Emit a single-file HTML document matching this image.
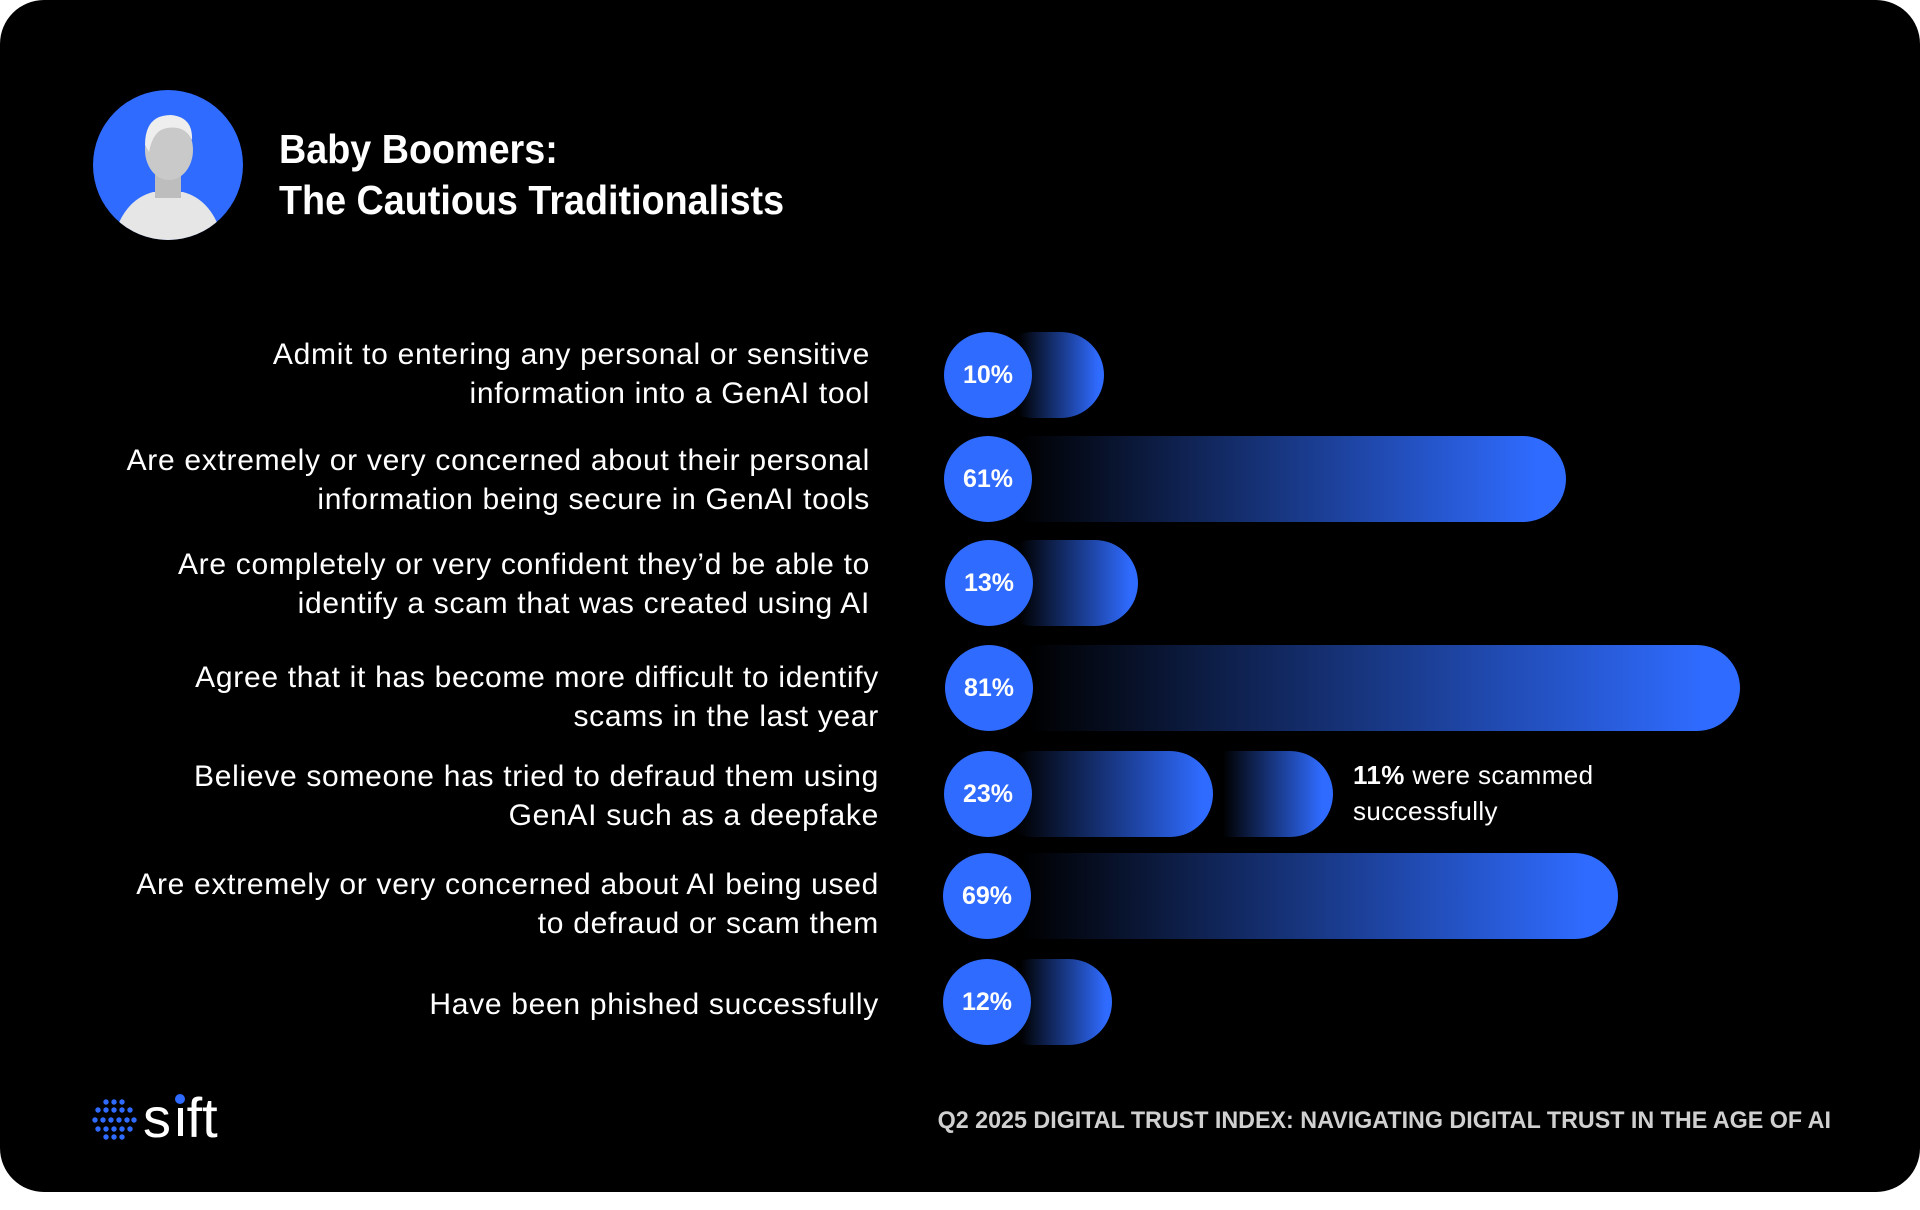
<!DOCTYPE html>
<html><head><meta charset="utf-8"><style>
html,body{margin:0;padding:0;width:1920px;height:1210px;background:#fff;overflow:hidden;font-family:"Liberation Sans",sans-serif}
.card{position:absolute;left:0;top:0;width:1920px;height:1192px;background:#000;border-radius:44px}
.av{position:absolute;left:93px;top:90px;width:150px;height:150px;border-radius:50%;background:#2f6bff;overflow:hidden}
.title{position:absolute;left:279px;top:124px;color:#fff;font-weight:bold;font-size:41px;line-height:51px;transform:scaleX(0.92);transform-origin:0 0;white-space:nowrap}
.lbl{position:absolute;color:#fff;font-size:30px;letter-spacing:0.7px;line-height:39px;text-align:right;width:860px}
.bar{position:absolute;height:86px;border-radius:43px}
.circ{position:absolute;width:88px;height:86px;border-radius:50%;background:#2f6bff;color:#fff;font-weight:bold;font-size:25px;line-height:86px;text-align:center}
.foot{position:absolute;right:89px;top:1107px;color:#d0d0d0;font-weight:bold;font-size:24px;transform:scaleX(0.97);transform-origin:100% 0;white-space:nowrap}
</style></head><body>
<div class="card"></div>
<div class="av">
<svg width="150" height="150" viewBox="0 0 150 150">
<path d="M20 150 Q30 110 60 102 L90 102 Q120 110 130 150Z" fill="#e6e6e6"/>
<rect x="62" y="80" width="26" height="28" fill="#bdbdbd"/>
<ellipse cx="76" cy="60" rx="24" ry="30" fill="#c9c9c9"/>
<path d="M52 55 Q52 25 78 25 Q100 27 99 50 Q92 35 74 38 Q60 40 56 62Z" fill="#eee"/>
</svg>
</div>
<div class="title">Baby Boomers:<br>The Cautious Traditionalists</div>

<div class="lbl" style="left:10px;top:335px">Admit to entering any personal or sensitive<br>information into a GenAI tool</div>
<div class="lbl" style="left:10px;top:441px">Are extremely or very concerned about their personal<br>information being secure in GenAI tools</div>
<div class="lbl" style="left:10px;top:545px">Are completely or very confident they’d be able to<br>identify a scam that was created using AI</div>
<div class="lbl" style="left:19px;top:658px">Agree that it has become more difficult to identify<br>scams in the last year</div>
<div class="lbl" style="left:19px;top:757px">Believe someone has tried to defraud them using<br>GenAI such as a deepfake</div>
<div class="lbl" style="left:19px;top:865px">Are extremely or very concerned about AI being used<br>to defraud or scam them</div>
<div class="lbl" style="left:19px;top:985px">Have been phished successfully</div>

<div class="bar" style="left:990px;top:332px;width:114px;background:linear-gradient(90deg,#000 25%,#2f6bff 95%)"></div>
<div class="circ" style="left:944px;top:332px">10%</div>
<div class="bar" style="left:990px;top:436px;width:576px;background:linear-gradient(90deg,#000 5%,#2f6bff 95%)"></div>
<div class="circ" style="left:944px;top:436px">61%</div>
<div class="bar" style="left:990px;top:540px;width:148px;background:linear-gradient(90deg,#000 20%,#2f6bff 95%)"></div>
<div class="circ" style="left:945px;top:540px">13%</div>
<div class="bar" style="left:990px;top:645px;width:750px;background:linear-gradient(90deg,#000 5%,#2f6bff 95%)"></div>
<div class="circ" style="left:945px;top:645px">81%</div>
<div class="bar" style="left:990px;top:751px;width:223px;background:linear-gradient(90deg,#000 12%,#2f6bff 95%)"></div>
<div class="bar" style="left:1223px;top:751px;width:110px;border-radius:0 43px 43px 0;background:linear-gradient(90deg,#000 0%,#2f6bff 90%)"></div>
<div class="circ" style="left:944px;top:751px">23%</div>
<div style="position:absolute;left:1353px;top:757px;color:#fff;font-size:26px;letter-spacing:0.4px;line-height:36px"><b>11%</b> were scammed<br>successfully</div>
<div class="bar" style="left:990px;top:853px;width:628px;background:linear-gradient(90deg,#000 5%,#2f6bff 95%)"></div>
<div class="circ" style="left:943px;top:853px">69%</div>
<div class="bar" style="left:990px;top:959px;width:122px;background:linear-gradient(90deg,#000 25%,#2f6bff 95%)"></div>
<div class="circ" style="left:943px;top:959px">12%</div>

<svg style="position:absolute;left:91px;top:1097px" width="46" height="46" viewBox="0 0 46 46">
<g fill="#2f6bff">
<circle cx="15" cy="5" r="2.7"/><circle cx="23" cy="5" r="2.7"/><circle cx="31" cy="5" r="2.7"/>
<circle cx="7" cy="13" r="2.7"/><circle cx="15" cy="13" r="2.7"/><circle cx="23" cy="13" r="2.7"/><circle cx="31" cy="13" r="2.7"/><circle cx="39" cy="13" r="2.7"/>
<circle cx="4" cy="23" r="2.7"/><circle cx="12" cy="23" r="2.7"/><circle cx="20" cy="23" r="2.7"/><circle cx="28" cy="23" r="2.7"/><circle cx="36" cy="23" r="2.7"/><circle cx="43" cy="23" r="2.7"/>
<circle cx="7" cy="32" r="2.7"/><circle cx="15" cy="32" r="2.7"/><circle cx="23" cy="32" r="2.7"/><circle cx="31" cy="32" r="2.7"/><circle cx="39" cy="32" r="2.7"/>
<circle cx="15" cy="40" r="2.7"/><circle cx="23" cy="40" r="2.7"/><circle cx="31" cy="40" r="2.7"/>
</g></svg>
<div style="position:absolute;left:143px;top:1088px;color:#fff;font-size:56px;line-height:60px">s<span style="color:#000">ı</span>ft</div>
<div style="position:absolute;left:175px;top:1143px;width:0;height:0"></div>
<div style="position:absolute;left:177.5px;top:1108px;width:5px;height:28px;background:#fff"></div>
<div style="position:absolute;left:175px;top:1094px;width:10px;height:10px;border-radius:50%;background:#2f6bff"></div>

<div class="foot">Q2 2025 DIGITAL TRUST INDEX: NAVIGATING DIGITAL TRUST IN THE AGE OF AI</div>
</body></html>
